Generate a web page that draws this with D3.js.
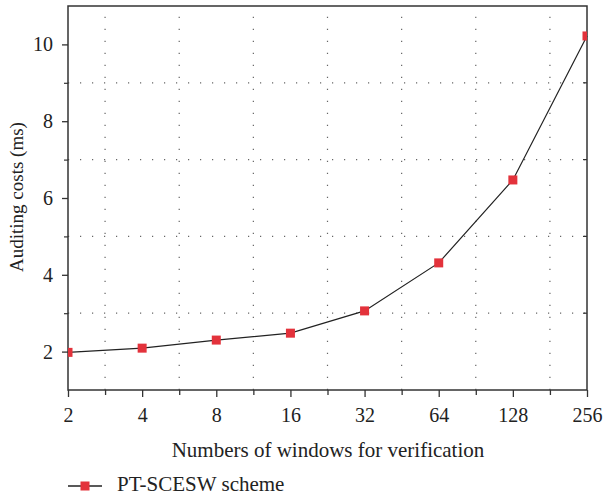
<!DOCTYPE html>
<html><head><meta charset="utf-8">
<script src="https://cdn.jsdelivr.net/npm/d3@7"></script>
<style>body{margin:0;background:#fff}svg{display:block}text{font-family:"Liberation Serif","DejaVu Serif",serif;fill:#222}</style>
</head><body><svg id="c" width="604" height="498"></svg>
<script>
const windows = [2, 4, 8, 16, 32, 64, 128, 256];
const costs = [1.98, 2.09, 2.30, 2.48, 3.06, 4.31, 6.47, 10.22];
const yTicks = [2, 4, 6, 8, 10];
const yGrid = [3, 5, 7, 9];
const seriesName = "PT-SCESW scheme";
const xTitle = "Numbers of windows for verification";
const yTitle = "Auditing costs (ms)";

const svg = d3.select("#c");
const L = 68, R = 587, T = 6, B = 390;
const x = d3.scaleLog().base(2).domain([2, 256]).range([L, R]);
const y = d3.scaleLinear().domain([1, 11]).range([B, T]);
const mids = windows.slice(0, -1).map(v => v * Math.SQRT2);
const FONT = '"Liberation Serif",serif';

const grid = svg.append("g").attr("stroke", "#666").attr("stroke-width", 1.2).attr("stroke-dasharray", "1.2,10.8");
grid.selectAll(".gy").data(yGrid).join("line").attr("x1", L).attr("x2", R).attr("y1", d => y(d)).attr("y2", d => y(d));
grid.selectAll(".gx").data(mids).join("line").attr("y1", B).attr("y2", T).attr("x1", d => x(d)).attr("x2", d => x(d));

// frame
svg.append("rect").attr("x", L).attr("y", T).attr("width", R - L).attr("height", B - T).attr("fill", "none").attr("stroke", "#333").attr("stroke-width", 1.5);

// y axis
const ya = svg.append("g").attr("transform", `translate(${L},0)`)
  .call(d3.axisLeft(y).tickValues(yTicks).tickSize(6).tickPadding(9).tickFormat(d3.format("d")));
ya.select(".domain").remove();
ya.selectAll("line").attr("stroke", "#333").attr("stroke-width", 1.3);
ya.selectAll("text").style("font-family", FONT).style("font-size", "20px").attr("fill", "#222");
const ym = svg.append("g").attr("transform", `translate(${L},0)`)
  .call(d3.axisLeft(y).tickValues(yGrid).tickSize(4).tickFormat(""));
ym.select(".domain").remove();
ym.selectAll("line").attr("stroke", "#333").attr("stroke-width", 1.2);

// x axis
const xa = svg.append("g").attr("transform", `translate(0,${B})`)
  .call(d3.axisBottom(x).tickValues(windows).tickSize(7).tickPadding(11).tickFormat(d3.format("d")));
xa.select(".domain").remove();
xa.selectAll("line").attr("stroke", "#333").attr("stroke-width", 1.3);
xa.selectAll("text").style("font-family", FONT).style("font-size", "20px").attr("fill", "#222");
const xm = svg.append("g").attr("transform", `translate(0,${B})`)
  .call(d3.axisBottom(x).tickValues(mids).tickSize(5).tickFormat(""));
xm.select(".domain").remove();
xm.selectAll("line").attr("stroke", "#333").attr("stroke-width", 1.3);
// right minor ticks inward
svg.append("g").selectAll("line").data(yGrid).join("line")
  .attr("x1", R - 4).attr("x2", R).attr("y1", d => y(d)).attr("y2", d => y(d)).attr("stroke", "#333").attr("stroke-width", 1.2);

// line + markers
svg.append("path").datum(windows.map((w, i) => [w, costs[i]]))
  .attr("d", d3.line().x(d => x(d[0])).y(d => y(d[1])))
  .attr("fill", "none").attr("stroke", "#222").attr("stroke-width", 1.2);
svg.append("defs").append("clipPath").attr("id", "cp").append("rect").attr("x", L).attr("y", T).attr("width", R - L).attr("height", B - T);
svg.append("g").attr("clip-path", "url(#cp)").selectAll("rect").data(windows).join("rect")
  .attr("x", d => x(d) - 4.5).attr("y", (d, i) => y(costs[i]) - 4.5).attr("width", 9).attr("height", 9)
  .attr("fill", "#e3323b");

// titles
svg.append("text").attr("x", 328).attr("y", 457).attr("text-anchor", "middle").style("font-size", "21px").text(xTitle);
svg.append("text").attr("transform", "translate(23,197) rotate(-90)").attr("text-anchor", "middle").style("font-size", "19px").text(yTitle);

// legend
const lg = svg.append("g").attr("transform", "translate(0,486)");
lg.append("line").attr("x1", 68).attr("x2", 102).attr("y1", 0).attr("y2", 0).attr("stroke", "#222").attr("stroke-width", 1.3);
lg.append("rect").attr("x", 80.5).attr("y", -4.5).attr("width", 9).attr("height", 9).attr("fill", "#e3323b");
lg.append("text").attr("x", 117).attr("y", 4.5).style("font-size", "21px").text(seriesName);
</script></body></html>
